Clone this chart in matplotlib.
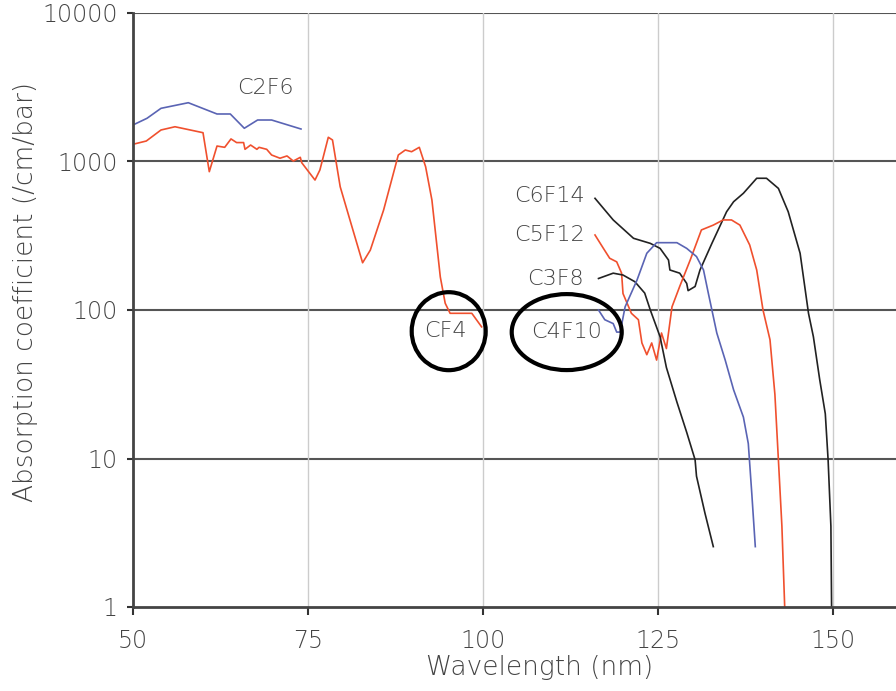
import matplotlib
matplotlib.use('Agg')
import matplotlib.pyplot as plt
from matplotlib.patches import Ellipse
from matplotlib.transforms import ScaledTranslation

# CF4 (red, low wavelength)
cf4_x = [50, 51.9, 54, 56, 60, 60.9, 62, 63.1, 64, 64.8, 65.8, 66, 66.8, 67.7, 68,
         69.1, 69.8, 71, 72, 72.9, 73.9, 74.1, 76, 76.7, 77.9, 78.5, 79.6, 81, 82.8,
         83.9, 85.8, 87.9, 88.9, 89.8, 90.9, 91.8, 92.7, 93.9, 94.6, 95.3, 98.4, 99.8]
cf4_y = [1306, 1374, 1630, 1714, 1563, 854, 1271, 1246, 1419, 1341, 1341, 1208, 1291,
         1208, 1246, 1208, 1106, 1052, 1090, 1007, 1067, 982, 750, 877, 1456, 1396,
         676, 403, 208, 253, 471, 1106, 1195, 1164, 1246, 923, 551, 167, 111, 95, 95, 77]

# C2F6 (blue)
c2f6_x = [50, 52, 54, 57.9, 62, 63.9, 65.9, 67.8, 69.8, 74]
c2f6_y = [1762, 1954, 2281, 2488, 2089, 2089, 1674, 1903, 1903, 1655]

# C6F14 (black)
c6f14_x = [116.0, 118.6, 121.5, 123.9, 125.3, 126.5, 126.7, 128.1, 129.1, 129.3, 130.3,
           131.0, 132.7, 134.8, 135.8, 137.2, 139.1, 140.5, 142.2, 143.6, 145.3, 146.5,
           147.2, 148.1, 148.9, 149.3, 149.7, 149.8]
c6f14_y = [565, 404, 304, 281, 260, 217, 186, 177, 151, 135, 144, 186, 281, 459, 536,
           611, 771, 771, 659, 459, 241, 95, 66, 34, 20, 9.8, 3.5, 1.0]

# C5F12 (red)
c5f12_x = [116.0, 117.2, 118.1, 119.1, 119.8, 120.0, 121.2, 122.2, 122.7, 123.4, 124.1,
           124.8, 125.5, 126.2, 127.0, 128.1, 129.6, 131.2, 132.9, 134.3, 135.5, 136.7,
           138.1, 139.1, 140.0, 141.0, 141.7, 142.2, 142.7, 143.1]
c5f12_y = [320, 260, 223, 211, 177, 129, 95, 86, 60, 50, 60, 46, 70, 55, 105, 144, 217,
           346, 373, 404, 404, 373, 274, 186, 100, 63, 27, 9.8, 3.5, 1.0]

# C3F8 (black)
c3f8_x = [116.5, 118.6, 120.0, 121.7, 123.1, 123.9, 125.3, 126.2, 127.7, 129.1, 130.3,
          130.5, 131.7, 132.9]
c3f8_y = [163, 177, 172, 155, 130, 100, 66, 41, 24, 15, 9.8, 7.6, 4.3, 2.55]

# C4F10 (blue)
c4f10_x = [116.5, 117.4, 118.6, 119.1, 119.6, 120.3, 122.0, 123.4, 124.8, 127.7, 129.1,
           130.5, 131.5, 132.2, 133.4, 134.6, 135.8, 137.2, 137.9, 138.4, 138.9]
c4f10_y = [100, 86, 81, 71, 71, 105, 159, 241, 284, 284, 260, 229, 186, 129, 70, 46, 29,
           19, 12.6, 5.8, 2.55]

x_ticks = [50, 75, 100, 125, 150]
y_ticks = [1, 10, 100, 1000, 10000]
y_ticklabels = ['1', '10', '100', '1000', '10000']

RED = '#f0502e'
BLUE = '#5a64b4'
BLACK = '#222222'
TXT = '#444444'

plt.rcParams['font.family'] = ['DejaVu Sans']
plt.rcParams['font.weight'] = 'light'
plt.rcParams['axes.labelweight'] = 'light'

fig = plt.figure(figsize=(8.96, 6.91), dpi=100)
ax = fig.add_axes([133 / 896, 84 / 691, 763 / 896, 594 / 691])

ax.plot(cf4_x, cf4_y, color=RED, lw=1.2)
ax.plot(c2f6_x, c2f6_y, color=BLUE, lw=1.2)
ax.plot(c6f14_x, c6f14_y, color=BLACK, lw=1.2)
ax.plot(c5f12_x, c5f12_y, color=RED, lw=1.2)
ax.plot(c3f8_x, c3f8_y, color=BLACK, lw=1.2)
ax.plot(c4f10_x, c4f10_y, color=BLUE, lw=1.2)

ax.set_yscale('log')
ax.set_xlim(50, 159)
ax.set_ylim(1, 10000)

# grid
for v in y_ticks[1:]:
    ax.axhline(v, color='#555555', lw=1.5, zorder=0)
for v in x_ticks[1:]:
    ax.axvline(v, color='#cccccc', lw=1.0, zorder=0)

ax.set_xticks(x_ticks)
ax.set_xticklabels([str(t) for t in x_ticks])
ax.set_yticks(y_ticks)
ax.set_yticklabels(y_ticklabels)
ax.minorticks_off()
ax.tick_params(axis='both', width=1.5, color='#333333', labelsize=17,
               labelcolor=TXT, direction='out')
ax.tick_params(axis='x', length=6, pad=10)
ax.tick_params(axis='y', length=4, pad=7)

for s in ['top', 'right']:
    ax.spines[s].set_visible(False)
for s in ['left', 'bottom']:
    ax.spines[s].set_color('#444444')
    ax.spines[s].set_linewidth(2)

ax.set_xlabel('Wavelength (nm)', fontsize=19, color=TXT)
ax.set_ylabel('Absorption coefficient (/cm/bar)', fontsize=19, color=TXT)
ax.xaxis.set_label_coords(0.533, -0.08)
ax.yaxis.set_label_coords(-0.125, 0.53)

# curve labels
lbl = dict(fontsize=16, color=TXT)
ax.text(68.9, 3126, 'C2F6', ha='center', va='center', **lbl)
ax.text(114.6, 586, 'C6F14', ha='right', va='center', **lbl)
ax.text(114.6, 320, 'C5F12', ha='right', va='center', **lbl)
ax.text(114.4, 162, 'C3F8', ha='right', va='center', **lbl)
ax.text(94.7, 72, 'CF4', ha='center', va='center', **lbl)
ax.text(112.0, 71, 'C4F10', ha='center', va='center', **lbl)

# circles around CF4 and C4F10
for cx, cy, w, h in [(95.1, 72, 0.74, 0.78), (111.96, 71, 1.10, 0.76)]:
    tr = fig.dpi_scale_trans + ScaledTranslation(cx, cy, ax.transData)
    ax.add_patch(Ellipse((0, 0), w, h, transform=tr, fill=False,
                         edgecolor='black', lw=3, zorder=5))

fig.savefig('out.png', dpi=100)
